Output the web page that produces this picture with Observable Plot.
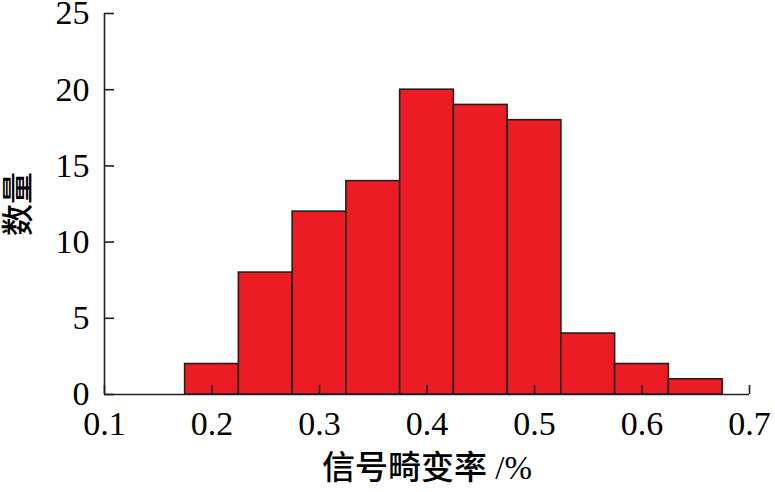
<!DOCTYPE html>
<html>
<head>
<meta charset="utf-8">
<script src="https://cdn.jsdelivr.net/npm/d3@7"></script>
<script src="https://cdn.jsdelivr.net/npm/@observablehq/plot@0.6"></script>
<style>
  html, body { margin: 0; padding: 0; background: #fff; }
  svg { overflow: visible; }
</style>
</head>
<body>
<div id="chart"></div>
<script>
const binCenters = [0.2, 0.25, 0.3, 0.35, 0.4, 0.45, 0.5, 0.55, 0.6, 0.65];
const counts = [2, 8, 12, 14, 20, 19, 18, 4, 2, 1];
const binWidth = 0.05;
const xTicks = [0.1, 0.2, 0.3, 0.4, 0.5, 0.6, 0.7];
const yTicks = [0, 5, 10, 15, 20, 25];
const xLabel = "信号畸变率 /%";
const yLabel = "数量";

const bins = binCenters.map((c, i) => ({x1: c - binWidth / 2, x2: c + binWidth / 2, count: counts[i]}));

const serif = "'Liberation Serif', 'Times New Roman', serif";
const cjk = "'Liberation Serif', 'Noto Sans CJK SC', sans-serif";

const chart = Plot.plot({
  width: 775,
  height: 492,
  marginLeft: 104,
  marginRight: 26,
  marginTop: 13,
  marginBottom: 98,
  style: {fontFamily: serif, background: "#fff", color: "#000", overflow: "visible"},
  x: {domain: [0.1, 0.7]},
  y: {domain: [0, 25]},
  marks: [
    Plot.rectY(bins, {x1: "x1", x2: "x2", y: "count", fill: "#ED1C24", stroke: "#231F20", strokeWidth: 1.6}),
    Plot.axisX(xTicks, {tickSize: 0, tickPadding: 16, fontSize: 34, tickFormat: d => d.toFixed(1), label: null}),
    Plot.axisY(yTicks, {tickSize: 0, tickPadding: 15, fontSize: 34, label: null}),
    Plot.ruleX(xTicks, {x: d => d, y1: 0, y2: 0, insetTop: -9, stroke: "#231F20", strokeWidth: 1.6}),
    Plot.ruleY(yTicks, {y: d => d, x1: 0.1, x2: 0.1, insetRight: -10, stroke: "#231F20", strokeWidth: 1.6}),
    Plot.ruleY([0], {x1: 0.1, x2: 0.7, stroke: "#231F20", strokeWidth: 1.6}),
    Plot.ruleX([0.1], {y1: 0, y2: 25, stroke: "#231F20", strokeWidth: 1.6}),
    Plot.text([xLabel], {text: d => d, frameAnchor: "bottom", textAnchor: "middle", lineAnchor: "middle", dy: 74, fontSize: 33, fontWeight: 500, fontFamily: cjk, fill: "#000"}),
    Plot.text([yLabel], {text: d => d, frameAnchor: "left", textAnchor: "middle", lineAnchor: "middle", dx: -86, rotate: -90, fontSize: 32, fontWeight: 500, fontFamily: cjk, fill: "#000"})
  ]
});
document.getElementById("chart").appendChild(chart);
</script>
</body>
</html>
